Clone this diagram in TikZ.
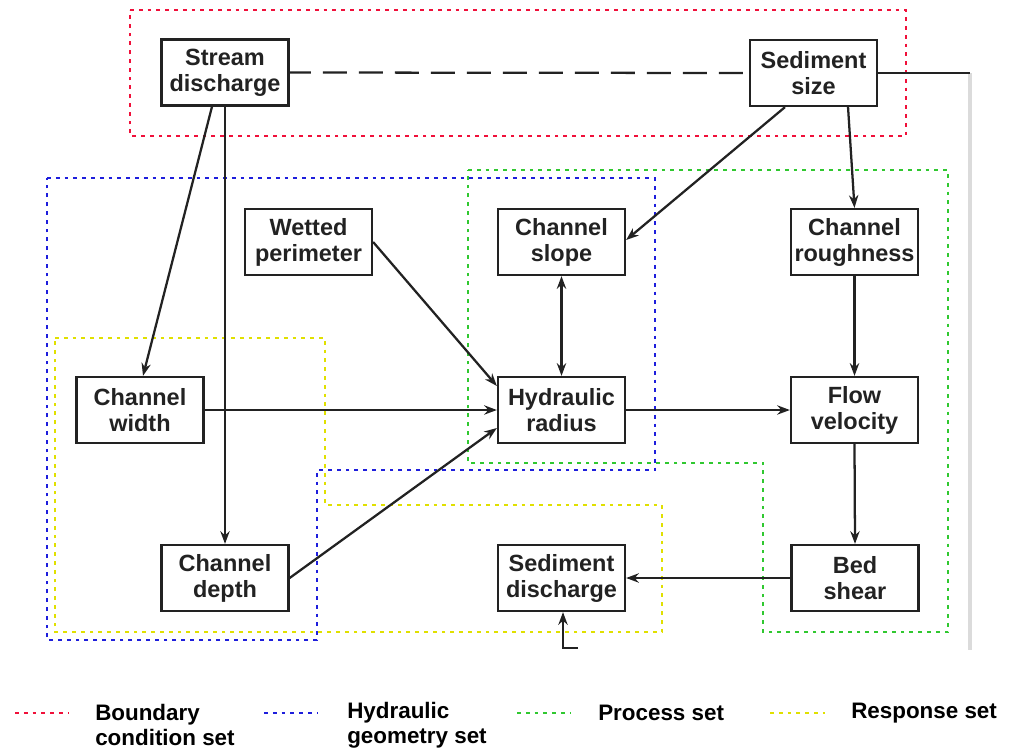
\documentclass[tikz,border=0pt]{standalone}
\usepackage{fontspec}
\setmainfont{Liberation Sans}
\usetikzlibrary{arrows.meta}
\definecolor{ink}{HTML}{222222}
\definecolor{setred}{HTML}{F0103A}
\definecolor{setblue}{HTML}{1E1EDC}
\definecolor{setgreen}{HTML}{30C830}
\definecolor{setyellow}{HTML}{E0E000}
\tikzset{
  box/.style={draw=ink, line width=1.7pt, fill=white, inner sep=0pt,
    minimum width=95.25pt, minimum height=49.5pt, align=center, text=ink,
    font=\bfseries\fontsize{17.6}{19.5}\selectfont},
  link/.style={draw=ink, line width=1.7pt, -{Stealth[length=9.5pt,width=7pt]}},
  plain/.style={draw=ink, line width=1.7pt},
  setline/.style={line width=2.1pt, dash pattern=on 2.8pt off 3.8pt},
  legtext/.style={anchor=west, align=left, text=black, inner sep=0pt,
    font=\bfseries\fontsize{16.8}{19}\selectfont}
}
\begin{document}
\begin{tikzpicture}[x=0.75pt, y=-0.75pt]
\useasboundingbox (0,0) rectangle (1010,753);

% grouping outlines
\draw[setline, setred] (130,10) -- (906,10) -- (906,136) -- (130,136) -- cycle;
\draw[setline, setblue] (47,178) -- (655,178) -- (655,470) -- (317,470) -- (317,640) -- (47,640) -- cycle;
\draw[setline, setgreen] (468,170) -- (948,170) -- (948,632) -- (763,632) -- (763,463) -- (468,463) -- cycle;
\draw[setline, setyellow] (55,338) -- (325,338) -- (325,505) -- (662,505) -- (662,632) -- (55,632) -- cycle;

% feedback path on the right
\coordinate (fbtop) at (970,73);
\coordinate (fbbot) at (970,650);
\draw[line width=2.6pt, black!14] (fbtop) -- (fbbot);

% variables
\node[box] (sd) at (225,72.5) {Stream\\discharge};
\node[box] (ss) at (813.5,73) {Sediment\\size};
\node[box] (wp) at (308.5,242) {Wetted\\perimeter};
\node[box] (cs) at (561.5,242) {Channel\\slope};
\node[box] (cr) at (854.5,242) {Channel\\roughness};
\node[box] (cw) at (140,410) {Channel\\width};
\node[box] (hr) at (561.5,410) {Hydraulic\\radius};
\node[box] (fv) at (854.5,410) {Flow\\velocity};
\node[box] (cd) at (225,578) {Channel\\depth};
\node[box] (sq) at (561.5,578) {Sediment\\discharge};
\node[box] (bs) at (855,578) {Bed\\shear};

% links
\draw[plain, dash pattern=on 18pt off 9pt, dash phase=2pt] (sd.east) -- (ss.west);
\draw[plain] (ss.east) -- (fbtop);
\draw[link] ([xshift=-9.75pt]sd.south) -- ([xshift=2.25pt]cw.north);
\draw[link] (sd.south) -- (cd.north);
\draw[link] ([xshift=-21.4pt]ss.south) -- ([yshift=1.5pt]cs.east);
\draw[link] ([xshift=25.9pt]ss.south) -- (cr.north);
\draw[link] (wp.east) -- ([yshift=18pt]hr.west);
\draw[link, {Stealth[length=9.5pt,width=7pt]}-{Stealth[length=9.5pt,width=7pt]}] (cs.south) -- (hr.north);
\draw[link] (cw.east) -- (hr.west);
\draw[link] (cd.east) -- ([yshift=-13.5pt]hr.west);
\draw[link] (hr.east) -- (fv.west);
\draw[link] (cr.south) -- (fv.north);
\draw[link] (fv.south) -- (bs.north);
\draw[link] (bs.west) -- (sq.east);
\coordinate (inbend) at (563,648);
\coordinate (intail) at (578,648);
\draw[link] (intail) -- (inbend) -- (inbend |- sq.south);

% legend
\draw[setline, setred] (15,713) -- (68,713);
\node[legtext] (lred) at (95,725) {Boundary\\condition set};
\draw[setline, setblue] (264,713) -- (318,713);
\node[legtext] (lblue) at (347,725) {Hydraulic\\geometry set};
\draw[setline, setgreen] (517,713) -- (570,713);
\node[legtext] (lgreen) at (598,713) {Process set};
\draw[setline, setyellow] (770,713) -- (825,713);
\node[legtext] (lyellow) at (851,713) {Response set};
\end{tikzpicture}
\end{document}
